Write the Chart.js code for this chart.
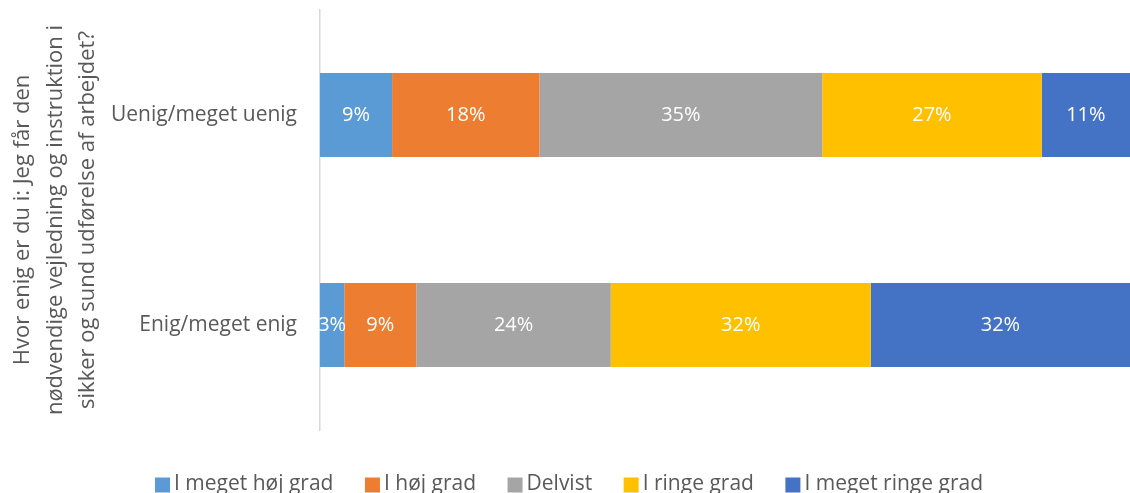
<!DOCTYPE html>
<html>
<head>
<meta charset="utf-8">
<script src="https://cdn.jsdelivr.net/npm/chart.js@4"></script>
<style>
  html, body { margin: 0; padding: 0; background: #fff; }
  #wrap { width: 1130px; height: 493px; position: relative; }
</style>
</head>
<body>
<div id="wrap"><canvas id="chart"></canvas></div>
<script>
const categories = ['Uenig/meget uenig', 'Enig/meget enig'];
const seriesNames = ['I meget høj grad', 'I høj grad', 'Delvist', 'I ringe grad', 'I meget ringe grad'];
const meget_hoej = [8.9, 3.0];
const hoej = [18.2, 8.9];
const delvist = [34.9, 24.0];
const ringe = [27.1, 32.1];
const meget_ringe = [10.9, 32.0];
const axisTitle = ['Hvor enig er du i: Jeg får den', 'nødvendige vejledning og instruktion i', 'sikker og sund udførelse af arbejdet?'];

const colors = ['#5B9BD5', '#ED7D31', '#A5A5A5', '#FFC000', '#4472C4'];
const values = [meget_hoej, hoej, delvist, ringe, meget_ringe];
const FONT = '"Open Sans", sans-serif';

// white percent labels in the middle of each segment
const barLabels = {
  id: 'barLabels',
  afterDatasetsDraw(chart) {
    const ctx = chart.ctx;
    ctx.save();
    ctx.fillStyle = '#fff';
    ctx.font = '20px ' + FONT;
    ctx.textAlign = 'center';
    ctx.textBaseline = 'middle';
    chart.data.datasets.forEach((ds, i) => {
      chart.getDatasetMeta(i).data.forEach((bar, j) => {
        const x = (bar.x + bar.base) / 2;
        ctx.fillText(Math.round(ds.data[j]) + '%', x, bar.y);
      });
    });
    ctx.restore();
  }
};

// legend drawn by hand so the box/text spacing looks like the original
const bottomLegend = {
  id: 'bottomLegend',
  afterDraw(chart) {
    const ctx = chart.ctx;
    const box = 15, gapText = 4, gapItem = 31.5;
    ctx.save();
    ctx.font = '21px ' + FONT;
    ctx.textBaseline = 'middle';
    const items = chart.data.datasets.map(ds => ({
      text: ds.label, color: ds.backgroundColor, w: ctx.measureText(ds.label).width
    }));
    const total = items.reduce((s, it) => s + box + gapText + it.w, 0) + gapItem * (items.length - 1);
    let x = (chart.width - total) / 2 + 4;
    const y = 484;
    items.forEach(it => {
      ctx.fillStyle = it.color;
      ctx.fillRect(x, y - box / 2 + 1, box, box);
      ctx.fillStyle = '#595959';
      ctx.fillText(it.text, x + box + gapText, y);
      x += box + gapText + it.w + gapItem;
    });
    ctx.restore();
  }
};

new Chart(document.getElementById('chart'), {
  type: 'bar',
  data: {
    labels: categories,
    datasets: seriesNames.map((name, i) => ({
      label: name,
      data: values[i],
      backgroundColor: colors[i],
      borderWidth: 0,
      categoryPercentage: 1,
      barPercentage: 0.4
    }))
  },
  options: {
    indexAxis: 'y',
    responsive: true,
    maintainAspectRatio: false,
    animation: false,
    layout: { padding: { left: 7, top: 10, right: 0, bottom: 0 } },
    plugins: {
      tooltip: { enabled: false },
      legend: { display: false }
    },
    scales: {
      x: {
        stacked: true,
        min: 0,
        max: 100,
        grid: { display: false },
        border: { display: false },
        ticks: { display: false },
        afterFit: s => { s.height = 63; }
      },
      y: {
        stacked: true,
        grid: { display: false },
        border: { display: true, color: '#D9D9D9', width: 1.5 },
        ticks: { color: '#595959', font: { family: FONT, size: 21 }, padding: 15 },
        afterFit: s => { s.paddingTop = 0; s.paddingBottom = 0; s.width = 313; },
        title: {
          display: true,
          text: axisTitle,
          color: '#595959',
          font: { family: FONT, size: 22, lineHeight: 1.47 },
          padding: { top: 0, bottom: 0 }
        }
      }
    }
  },
  plugins: [barLabels, bottomLegend]
});
</script>
</body>
</html>
